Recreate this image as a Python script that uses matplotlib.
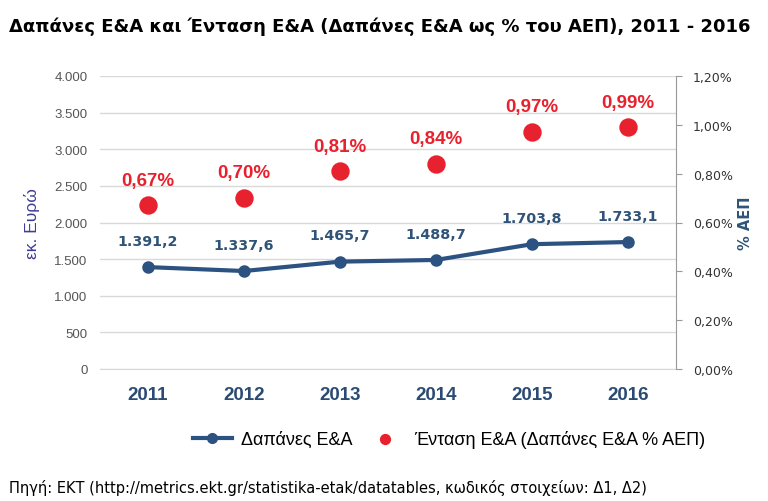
import matplotlib.pyplot as plt
from matplotlib.ticker import FuncFormatter

years = ['2011', '2012', '2013', '2014', '2015', '2016']
spend = [1391.2, 1337.6, 1465.7, 1488.7, 1703.8, 1733.1]
intensity = [0.67, 0.70, 0.81, 0.84, 0.97, 0.99]

line_col = '#2C5282'
red = '#E8212E'


def gr_num(v, dec=1):
    s = f'{v:,.{dec}f}'
    return s.replace(',', 'X').replace('.', ',').replace('X', '.')


fig = plt.figure(figsize=(7.68, 5.02), dpi=100)
ax = fig.add_axes([100 / 768, 1 - 370 / 502, 576 / 768, 293 / 502])
ax2 = ax.twinx()

x = list(range(len(years)))
ax.plot(x, spend, color=line_col, lw=3, marker='o', ms=8, zorder=3)
for xi, v in zip(x, spend):
    ax.annotate(gr_num(v), (xi, v), xytext=(0, 14), textcoords='offset points',
                ha='center', va='bottom', fontsize=10.3, fontweight='bold',
                color='#2F5478', family='DejaVu Sans')

ax2.scatter(x, intensity, s=150, color=red, zorder=3)
for xi, v in zip(x, intensity):
    ax2.annotate(gr_num(v, 2) + '%', (xi, v), xytext=(0, 12), textcoords='offset points',
                 ha='center', va='bottom', fontsize=13.5, fontweight='bold',
                 color=red, family='Liberation Sans')

ax.set_xlim(-0.5, 5.5)
ax.set_ylim(0, 4000)
ax.set_yticks(range(0, 4001, 500))
ax.yaxis.set_major_formatter(FuncFormatter(lambda v, p: gr_num(v, 0)))
ax.grid(axis='y', color='#D9D9D9', lw=1)
ax.set_axisbelow(True)
ax.set_xticks(x)
ax.set_xticklabels(years, fontsize=13.5, fontweight='bold', color='#2B4C72',
                   family='Liberation Sans')
ax.tick_params(axis='x', length=0, pad=12)
ax.tick_params(axis='y', length=0, pad=9, labelsize=9.5, labelcolor='#555555')
for lbl in ax.get_yticklabels():
    lbl.set_family('Liberation Sans')
for s in ['top', 'left', 'right']:
    ax.spines[s].set_visible(False)
ax.spines['bottom'].set_color('#D9D9D9')
ax.set_ylabel('εκ. Ευρώ', color='#3D3D99', fontsize=12.5, family='Liberation Sans', labelpad=10)

ax2.set_ylim(0, 1.2)
ax2.set_yticks([0, 0.2, 0.4, 0.6, 0.8, 1.0, 1.2])
ax2.yaxis.set_major_formatter(FuncFormatter(lambda v, p: gr_num(v, 2) + '%'))
ax2.tick_params(axis='y', direction='out', length=4, color='#999999', labelsize=9,
                labelcolor='#333333', pad=8)
for s in ['top', 'left', 'bottom']:
    ax2.spines[s].set_visible(False)
ax2.spines['right'].set_color('#999999')
ax2.set_ylabel('% ΑΕΠ', color='#2F5478', fontsize=10.5, fontweight='bold',
               family='DejaVu Sans', labelpad=4)

fig.text(0.012, 1 - 27 / 502, 'Δαπάνες Ε&Α και Ένταση Ε&Α (Δαπάνες Ε&Α ως % του ΑΕΠ), 2011 - 2016',
         fontsize=13.0, fontweight='bold', va='center', ha='left', family='DejaVu Sans')

h1, = ax.plot([], [], color=line_col, lw=3, marker='o', ms=7)
h2 = ax.scatter([], [], s=50, color=red)
fig.legend([h1, h2], ['Δαπάνες Ε&Α', 'Ένταση Ε&Α (Δαπάνες Ε&Α % ΑΕΠ)'],
           loc='center', bbox_to_anchor=(449 / 768, 1 - 440 / 502), ncol=2, frameon=False,
           prop={'family': 'Liberation Sans', 'size': 13}, handlelength=2.2,
           columnspacing=0.7, handletextpad=0.5)

fig.text(0.012, 1 - 488 / 502,
         'Πηγή: ΕΚΤ (http://metrics.ekt.gr/statistika-etak/datatables, κωδικός στοιχείων: Δ1, Δ2)',
         fontsize=10.5, va='center', ha='left', family='DejaVu Sans')

fig.savefig('out.png', dpi=100)
